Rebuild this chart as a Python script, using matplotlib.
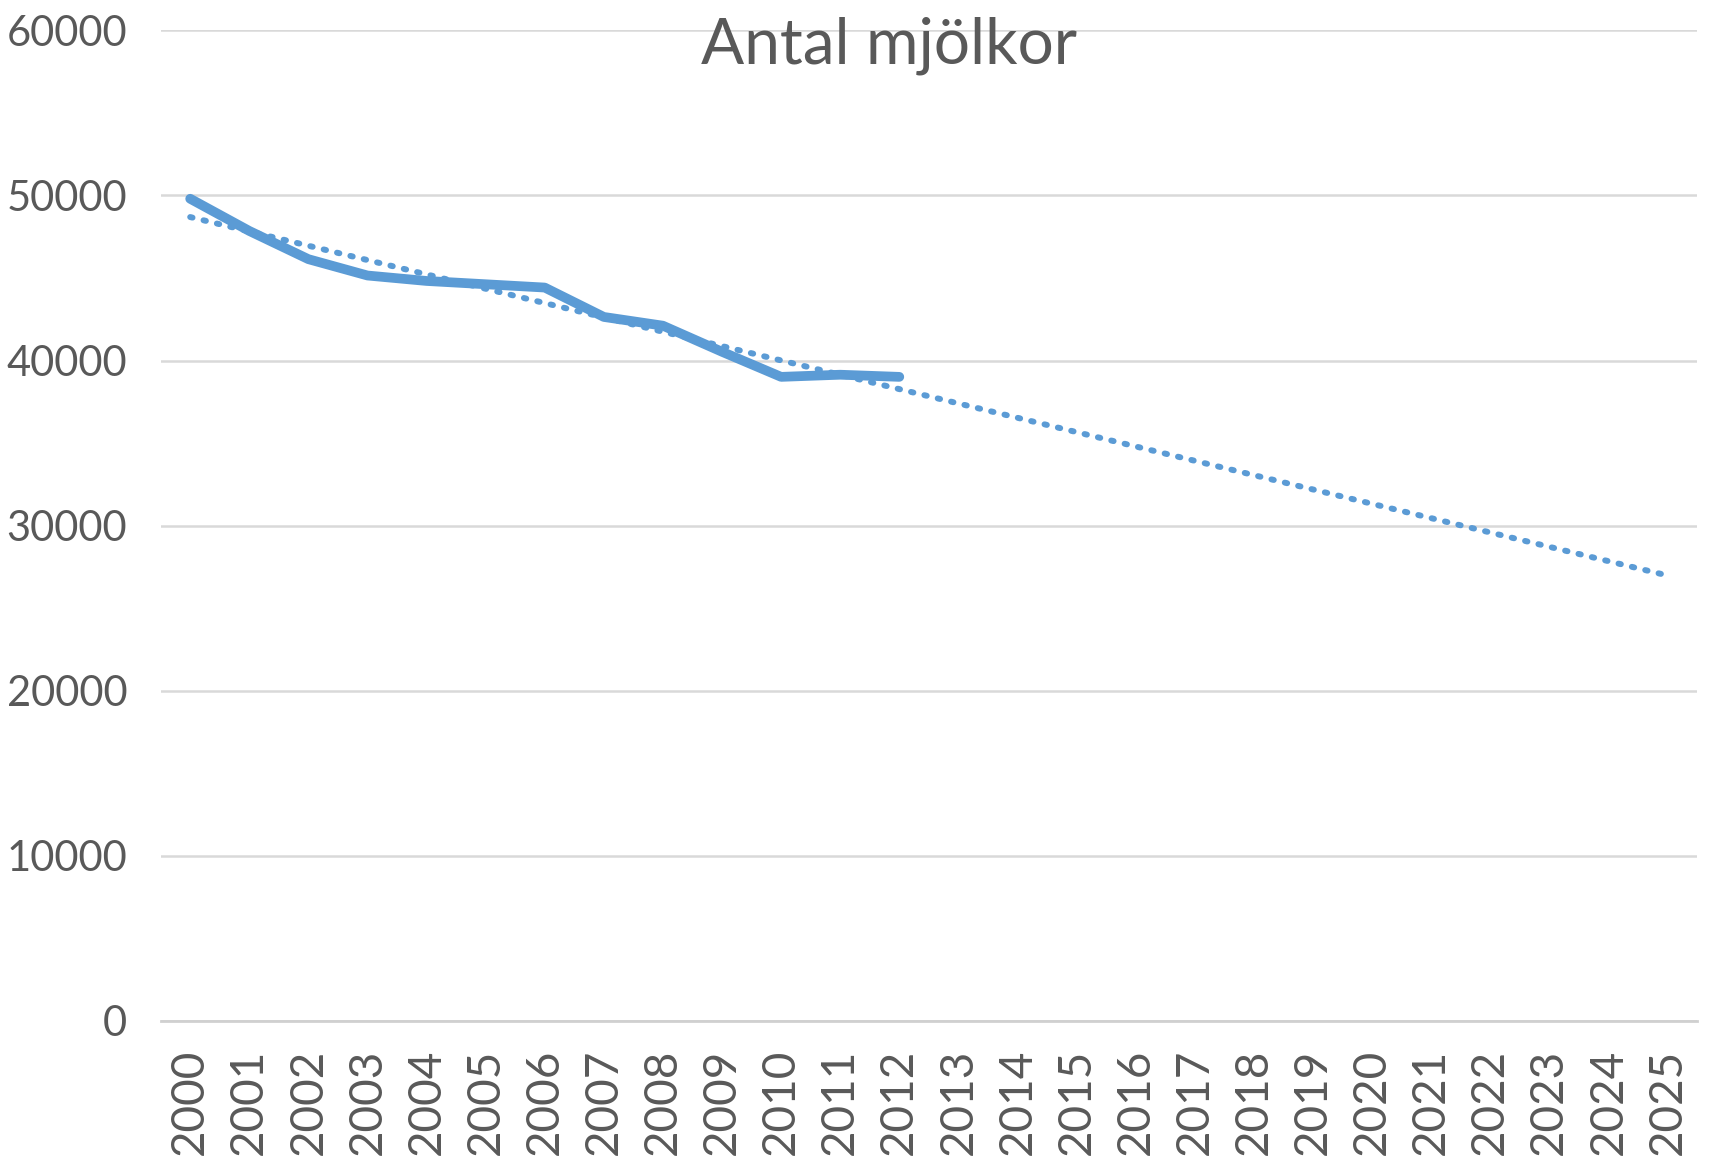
import matplotlib
matplotlib.use("Agg")
import matplotlib.pyplot as plt
import numpy as np

years = [str(y) for y in range(2000, 2026)]
cows_years = list(range(2000, 2013))
cows = [49800, 47850, 46140, 45150, 44820, 44620, 44420, 42640, 42110, 40530, 39010, 39140, 39010]
yticks = [0, 10000, 20000, 30000, 40000, 50000, 60000]
title = "Antal mjölkor"

plt.rcParams['font.family'] = ['Lato', 'DejaVu Sans']

blue = "#5B9BD5"
txt = "#595959"
grid = "#D9D9D9"

fig = plt.figure(figsize=(17.09, 11.68), dpi=100)
ax = fig.add_axes([0.094, 0.126, 0.899, 0.848])

xi = np.arange(len(cows))
ax.plot(xi, cows, color=blue, lw=7, solid_capstyle='round', solid_joinstyle='round', zorder=3)

# linear trendline extended to all categories
coef = np.polyfit(xi, cows, 1)
xall = np.arange(len(years))
ax.plot(xall, np.polyval(coef, xall), color=blue, lw=4.3, linestyle=(0, (0.4, 1.9)),
        dash_capstyle='round', zorder=2)

ax.set_xlim(-0.5, len(years) - 0.5)
ax.set_ylim(0, 60000)
ax.set_yticks(yticks)
ax.set_yticklabels([str(v) for v in yticks])
ax.set_xticks(xall)
ax.set_xticklabels(years, rotation=90)
ax.tick_params(axis='both', length=0, colors=txt)
ax.tick_params(axis='y', labelsize=30, pad=24)
ax.tick_params(axis='x', labelsize=33, pad=20)
ax.grid(axis='y', color=grid, lw=1.8)
ax.set_axisbelow(True)
for s in ['top', 'right', 'left']:
    ax.spines[s].set_visible(False)
ax.spines['bottom'].set_color("#D0D0D0")
ax.spines['bottom'].set_linewidth(2)

fig.text(0.52, 0.946, title, ha='center', va='baseline', fontsize=46, color=txt)

fig.savefig("out.png", dpi=100, facecolor='white')
